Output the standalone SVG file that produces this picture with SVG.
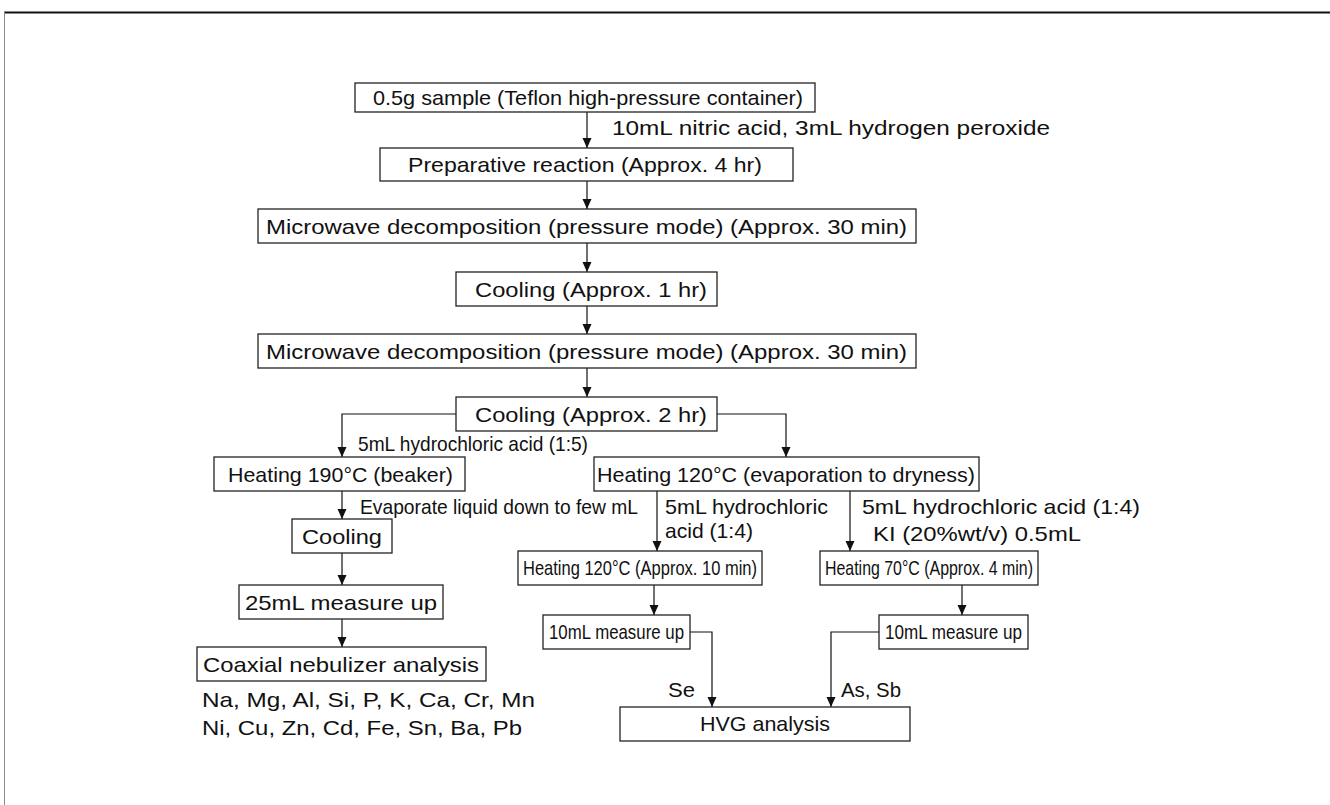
<svg xmlns="http://www.w3.org/2000/svg" width="1330" height="805" viewBox="0 0 1330 805">
<style>
.box{fill:#fff;stroke:#222;stroke-width:1.3}
.t{font-family:"Liberation Sans",Arial,sans-serif;font-size:21px;fill:#111}
.c{fill:none;stroke:#111;stroke-width:1.2}
</style>
<defs>
<marker id="ah" viewBox="0 0 10 10" refX="10" refY="5" markerWidth="10" markerHeight="10" markerUnits="userSpaceOnUse" orient="auto">
<path d="M0,0.5 L10,5 L0,9.5 z" fill="#111"/>
</marker>
</defs>
<rect width="1330" height="805" fill="#fff"/>
<g id="frame">
<line x1="4" y1="12.5" x2="1330" y2="12.5" stroke="#111" stroke-width="2"/>
<line x1="4.5" y1="12" x2="4.5" y2="805" stroke="#888" stroke-width="1"/>
</g>
<g id="connectors">
<line class="c" x1="587" y1="112" x2="587" y2="148" marker-end="url(#ah)"/>
<line class="c" x1="587" y1="181" x2="587" y2="209" marker-end="url(#ah)"/>
<line class="c" x1="587" y1="243" x2="587" y2="272" marker-end="url(#ah)"/>
<line class="c" x1="587" y1="306" x2="587" y2="334" marker-end="url(#ah)"/>
<line class="c" x1="587" y1="368" x2="587" y2="397" marker-end="url(#ah)"/>
<polyline class="c" points="456,414 342,414 342,457" marker-end="url(#ah)"/>
<polyline class="c" points="717,414 786,414 786,457" marker-end="url(#ah)"/>
<line class="c" x1="342" y1="491" x2="342" y2="519" marker-end="url(#ah)"/>
<line class="c" x1="342" y1="553" x2="342" y2="585" marker-end="url(#ah)"/>
<line class="c" x1="342" y1="619" x2="342" y2="647" marker-end="url(#ah)"/>
<line class="c" x1="657" y1="491" x2="657" y2="551" marker-end="url(#ah)"/>
<line class="c" x1="850" y1="491" x2="850" y2="551" marker-end="url(#ah)"/>
<line class="c" x1="654" y1="585" x2="654" y2="615" marker-end="url(#ah)"/>
<line class="c" x1="962" y1="585" x2="962" y2="615" marker-end="url(#ah)"/>
<polyline class="c" points="690,632 712,632 712,707" marker-end="url(#ah)"/>
<polyline class="c" points="879,632 831,632 831,707" marker-end="url(#ah)"/>
</g>
<g id="labels">
<text class="t" x="612" y="135" textLength="438" lengthAdjust="spacingAndGlyphs">10mL nitric acid, 3mL hydrogen peroxide</text>
<text class="t" x="358" y="451" textLength="230" lengthAdjust="spacingAndGlyphs">5mL hydrochloric acid (1:5)</text>
<text class="t" x="360" y="514" textLength="278" lengthAdjust="spacingAndGlyphs">Evaporate liquid down to few mL</text>
<text class="t" x="665" y="514" textLength="163" lengthAdjust="spacingAndGlyphs">5mL hydrochloric</text>
<text class="t" x="665" y="538" textLength="88" lengthAdjust="spacingAndGlyphs">acid (1:4)</text>
<text class="t" x="862" y="514" textLength="278" lengthAdjust="spacingAndGlyphs">5mL hydrochloric acid (1:4)</text>
<text class="t" x="873" y="541" textLength="208" lengthAdjust="spacingAndGlyphs">KI (20%wt/v) 0.5mL</text>
<text class="t" x="202" y="707" textLength="333" lengthAdjust="spacingAndGlyphs">Na, Mg, Al, Si, P, K, Ca, Cr, Mn</text>
<text class="t" x="202" y="735" textLength="320" lengthAdjust="spacingAndGlyphs">Ni, Cu, Zn, Cd, Fe, Sn, Ba, Pb</text>
<text class="t" x="668" y="697" textLength="27" lengthAdjust="spacingAndGlyphs">Se</text>
<text class="t" x="841" y="697" textLength="60" lengthAdjust="spacingAndGlyphs">As, Sb</text>
</g>
<g id="n1"><rect class="box" x="355" y="83" width="460" height="29"/><text class="t" x="373" y="104.5" textLength="430" lengthAdjust="spacingAndGlyphs">0.5g sample (Teflon high-pressure container)</text></g>
<g id="n2"><rect class="box" x="380" y="148" width="413" height="33"/><text class="t" x="408" y="172" textLength="354" lengthAdjust="spacingAndGlyphs">Preparative reaction (Approx. 4 hr)</text></g>
<g id="n3"><rect class="box" x="258" y="209" width="658" height="34"/><text class="t" x="266" y="233.5" textLength="641" lengthAdjust="spacingAndGlyphs">Microwave decomposition (pressure mode) (Approx. 30 min)</text></g>
<g id="n4"><rect class="box" x="456" y="272" width="261" height="34"/><text class="t" x="475" y="296.5" textLength="232" lengthAdjust="spacingAndGlyphs">Cooling (Approx. 1 hr)</text></g>
<g id="n5"><rect class="box" x="258" y="334" width="658" height="34"/><text class="t" x="266" y="358.5" textLength="641" lengthAdjust="spacingAndGlyphs">Microwave decomposition (pressure mode) (Approx. 30 min)</text></g>
<g id="n6"><rect class="box" x="456" y="397" width="261" height="34"/><text class="t" x="475" y="421.5" textLength="232" lengthAdjust="spacingAndGlyphs">Cooling (Approx. 2 hr)</text></g>
<g id="n7"><rect class="box" x="214" y="457" width="251" height="34"/><text class="t" x="228" y="481.5" textLength="225" lengthAdjust="spacingAndGlyphs">Heating 190°C (beaker)</text></g>
<g id="n8"><rect class="box" x="594" y="457" width="385" height="34"/><text class="t" x="597" y="481.5" textLength="378" lengthAdjust="spacingAndGlyphs">Heating 120°C (evaporation to dryness)</text></g>
<g id="n9"><rect class="box" x="292" y="519" width="100" height="34"/><text class="t" x="302" y="543.5" textLength="80" lengthAdjust="spacingAndGlyphs">Cooling</text></g>
<g id="n10"><rect class="box" x="239" y="585" width="204" height="34"/><text class="t" x="245" y="609.5" textLength="192" lengthAdjust="spacingAndGlyphs">25mL measure up</text></g>
<g id="n11"><rect class="box" x="197" y="647" width="289" height="34"/><text class="t" x="203" y="671.5" textLength="276" lengthAdjust="spacingAndGlyphs">Coaxial nebulizer analysis</text></g>
<g id="n12"><rect class="box" x="518" y="551" width="244" height="34"/><text class="t" x="523" y="575" textLength="234" lengthAdjust="spacingAndGlyphs">Heating 120°C (Approx. 10 min)</text></g>
<g id="n13"><rect class="box" x="820" y="551" width="218" height="34"/><text class="t" x="825" y="575" textLength="208" lengthAdjust="spacingAndGlyphs">Heating 70°C (Approx. 4 min)</text></g>
<g id="n14"><rect class="box" x="543" y="615" width="147" height="34"/><text class="t" x="549" y="639" textLength="135" lengthAdjust="spacingAndGlyphs">10mL measure up</text></g>
<g id="n15"><rect class="box" x="879" y="615" width="149" height="34"/><text class="t" x="885" y="639" textLength="137" lengthAdjust="spacingAndGlyphs">10mL measure up</text></g>
<g id="n16"><rect class="box" x="620" y="707" width="290" height="34"/><text class="t" x="765" y="731" text-anchor="middle" textLength="130" lengthAdjust="spacingAndGlyphs">HVG analysis</text></g>
</svg>
